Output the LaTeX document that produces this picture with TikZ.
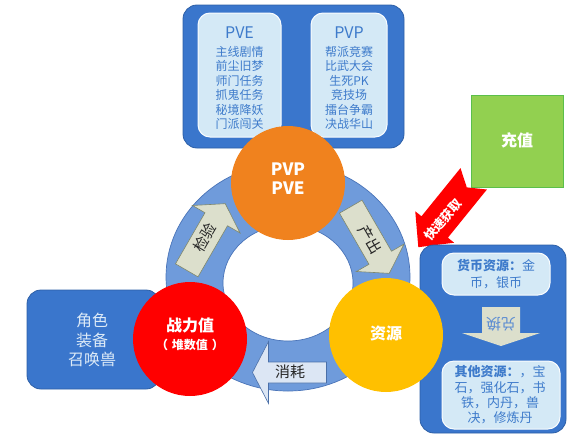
\documentclass[tikz,border=0pt]{standalone}
\usepackage{fontspec}
\setmainfont{Noto Sans CJK SC}
\definecolor{topblue}{HTML}{3A76CC}
\definecolor{boxborder}{HTML}{2D5FA6}
\definecolor{innerfill}{HTML}{D4E9F6}
\definecolor{innertext}{HTML}{3E7BCB}
\definecolor{ringfill}{HTML}{6F9BDB}
\definecolor{ringborder}{HTML}{4A74B8}
\definecolor{khaki}{HTML}{DCDFCC}
\definecolor{khakiborder}{HTML}{7E876C}
\definecolor{paleblue}{HTML}{DCE6F4}
\definecolor{paleborder}{HTML}{4A6FA8}
\definecolor{orangec}{HTML}{F0821E}
\definecolor{yellowc}{HTML}{FFC000}
\definecolor{greenc}{HTML}{92D050}
\definecolor{greenborder}{HTML}{5BBF4A}
\definecolor{lefttext}{HTML}{DCEAF7}
\definecolor{swaptext}{HTML}{5B8CD2}
\tikzset{
  bluebox/.style={rectangle, rounded corners=14pt, fill=topblue, draw=boxborder, line width=0.8pt, inner sep=0pt},
  innerbox/.style={rectangle, rounded corners=12pt, fill=innerfill, draw=white!85!innerfill, line width=1pt, inner sep=0pt},
  bigdot/.style={circle, minimum size=114pt, inner sep=0pt},
  whitebold/.style={text=white, font=\bfseries\fontsize{16}{19}\selectfont, align=center, inner sep=0pt},
  listtext/.style={text=innertext, align=center, inner sep=0pt, font=\fontsize{12}{14.4}\selectfont},
  khakiarrow/.style={fill=khaki, draw=khakiborder, line width=0.6pt},
  lbl/.style={inner sep=0pt, font=\fontsize{15}{15}\selectfont, text=black!85}
}
\begin{document}
\begin{tikzpicture}[x=1pt,y=-1pt]
\useasboundingbox (0,0) rectangle (577,447);

% ring
\path[fill=ringfill, draw=ringborder, line width=0.7pt, even odd rule]
  (288,277) ellipse [x radius=122pt, y radius=114pt]
  (288,283) ellipse [x radius=65pt, y radius=58pt];

% ring arrows
\begin{scope}[shift={(206,237)}, rotate=60]
  \path[khakiarrow] (-38.5,-13) -- (20.5,-13) -- (20.5,-27.5) -- (38.5,0) -- (20.5,27.5) -- (20.5,13) -- (-38.5,13) -- cycle;
\end{scope}
\node[lbl, rotate=60] (jianyan) at (205,238) {检验};
\begin{scope}[shift={(370,240)}, rotate=-60]
  \path[khakiarrow] (-38.5,-13) -- (20.5,-13) -- (20.5,-27.5) -- (38.5,0) -- (20.5,27.5) -- (20.5,13) -- (-38.5,13) -- cycle;
\end{scope}
\node[lbl, rotate=-60] (chanchu) at (370,240) {产出};
\begin{scope}[shift={(289.5,372.5)}, rotate=180]
  \path[fill=paleblue, draw=paleborder, line width=0.6pt] (-37,-10.5) -- (21,-10.5) -- (21,-31) -- (37,0) -- (21,31) -- (21,10.5) -- (-37,10.5) -- cycle;
\end{scope}
\node[lbl] (xiaohao) at (290,372) {消耗};

% top box
\node[bluebox, minimum width=221pt, minimum height=143pt] (topbox) at (293.5,76.5) {};
\node[innerbox, minimum width=83pt, minimum height=124pt] (pvebox) at (239.5,75) {};
\node[innerbox, minimum width=76pt, minimum height=124pt] (pvpbox) at (349,75) {};
\node[text=innertext, inner sep=0pt, font=\fontsize{16}{16}\selectfont] (pvetitle) at (239.5,33) {PVE};
\node[text=innertext, inner sep=0pt, font=\fontsize{16}{16}\selectfont] (pvptitle) at (349,33) {PVP};
\node[listtext] (pvelist) at (239.5,88) {主线剧情\\前尘旧梦\\师门任务\\抓鬼任务\\秘境降妖\\门派闯关};
\node[listtext] (pvplist) at (349,88) {帮派竞赛\\比武大会\\生死PK\\竞技场\\擂台争霸\\决战华山};

% left box
\node[bluebox, minimum width=133pt, minimum height=99pt] (leftbox) at (93.5,339.5) {};
\node[text=lefttext, align=center, inner sep=0pt, font=\fontsize{16}{19.5}\selectfont] (lefttxt) at (92,340) {角色\\装备\\召唤兽};

% green box and red arrow
\node[rectangle, fill=greenc, draw=greenborder, line width=0.8pt, minimum width=92pt, minimum height=92pt] (chongzhi) at (517,141) {};
\node[whitebold] (chongzhitxt) at (517,140) {充值};
\begin{scope}[shift={(446,213)}, rotate=231]
  \path[fill=red] (-44,-17) -- (18,-17) -- (18,-25) -- (44,0) -- (18,25) -- (18,17) -- (-44,17) -- (-33,0) -- cycle;
\end{scope}
\node[text=white, inner sep=0pt, rotate=49, font=\bfseries\fontsize{12.5}{12.5}\selectfont] (kuaisu) at (443,220) {快速获取};

% resource box
\node[bluebox, minimum width=146pt, minimum height=188pt] (resbox) at (493,339) {};
\node[innerbox, minimum width=108pt, minimum height=42pt] (coinbox) at (496,274) {};
\node[innerbox, minimum width=118pt, minimum height=68pt] (otherbox) at (501,395) {};
\node[text=innertext, align=center, inner sep=0pt, font=\fontsize{13}{17}\selectfont] (cointxt) at (496,274.5) {\textbf{货币资源：}金\\币，银币};
\node[text=innertext, align=center, inner sep=0pt, font=\fontsize{13}{15.3}\selectfont] (othertxt) at (500,395) {\textbf{其他资源：}，宝\\石，强化石，书\\铁，内丹，兽\\决，修炼丹};
\path[fill=khaki] (482,307) -- (520,307) -- (520,333) -- (540,333) -- (501,346) -- (462,333) -- (482,333) -- cycle;
\node[text=swaptext, inner sep=0pt, rotate=180, font=\fontsize{15}{15}\selectfont] (duihuan) at (501,324) {兑换};

% circles
\node[bigdot, fill=orangec] (pvp) at (288,183) {};
\node[whitebold, font=\bfseries\fontsize{17}{19}\selectfont] (pvptxt) at (288,178.5) {PVP\\PVE};
\node[bigdot, fill=red] (zhanli) at (190,339) {};
\node[whitebold] (zhanlitxt) at (190,325) {战力值};
\node[text=white, inner sep=0pt, font=\bfseries\fontsize{12}{12}\selectfont] (duishu) at (190,344.5) {（\hspace{4pt}堆数值\hspace{4pt}）};
\node[bigdot, fill=yellowc] (ziyuan) at (386,335) {};
\node[whitebold] (ziyuantxt) at (386,333) {资源};
\end{tikzpicture}
\end{document}
